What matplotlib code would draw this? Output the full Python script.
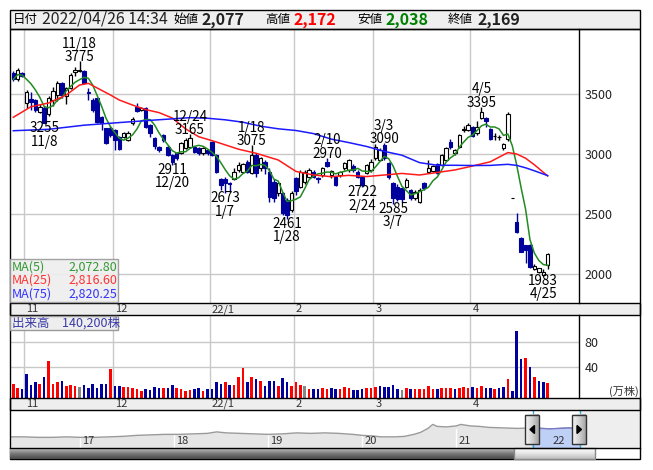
"""
Daily candlestick chart with moving averages, volume and navigator
"""

import matplotlib.pyplot as plt
import numpy as np
import pandas as pd
from matplotlib.patches import Rectangle, Polygon
from matplotlib.colors import LinearSegmentedColormap

plt.rcParams['font.family'] = ['Noto Sans CJK JP', 'DejaVu Sans']

# Trading days (Tokyo, 2021/10/27 - 2022/04/26)
holidays = ['2021-11-03', '2021-11-23', '2021-12-31', '2022-01-03', '2022-01-10',
            '2022-02-11', '2022-02-23', '2022-03-21']
dates = pd.bdate_range('2021-10-27', '2022-04-26', freq='C', holidays=holidays)

opens = [3672, 3622, 3672, 3428, 3456, 3450, 3353, 3381, 3330, 3450,
         3492, 3589, 3483, 3547, 3686, 3690, 3694, 3519, 3450, 3464,
         3311, 3214, 3214, 3200, 3144, 3144, 3117, 3255, 3394, 3367,
         3381, 3242, 3130, 3061, 3158, 3061, 2992, 3006, 3006, 3047,
         3061, 3061, 3047, 3006, 3033, 3103, 2992, 2789, 2789, 2755,
         2789, 2867, 2853, 2936, 2839, 2992, 2880, 2936, 2853, 2769,
         2672, 2672, 2617, 2533, 2797, 2728, 2769, 2811, 2853, 2800,
         2825, 2936, 2825, 2811, 2825, 2880, 2867, 2900, 2853, 2811,
         2839, 2867, 2964, 2950, 3075, 2922, 2756, 2728, 2714, 2728,
         2700, 2631, 2603, 2756, 2853, 2861, 2917, 2908, 2950, 3103,
         3006, 3061, 3203, 3200, 3222, 3172, 3297, 3297, 3205, 3150,
         3139, 3047, 3122, 2630, 2436, 2297, 2242, 2242, 2045, 2015,
         1995, 2077]
highs = [3690, 3720, 3680, 3533, 3520, 3460, 3420, 3400, 3485, 3561,
         3610, 3600, 3561, 3672, 3728, 3775, 3700, 3547, 3470, 3470,
         3320, 3220, 3230, 3210, 3150, 3180, 3190, 3311, 3422, 3394,
         3394, 3250, 3140, 3070, 3170, 3075, 3000, 3020, 3100, 3130,
         3165, 3070, 3060, 3055, 3040, 3110, 3000, 2800, 2810, 2770,
         2881, 2930, 2925, 2950, 3075, 3006, 2975, 2950, 2880, 2790,
         2770, 2680, 2630, 2690, 2810, 2870, 2870, 2880, 2870, 2810,
         2890, 2970, 2870, 2820, 2860, 2936, 2960, 2920, 2870, 2820,
         2920, 2960, 3080, 3050, 3090, 2930, 2770, 2750, 2720, 2800,
         2710, 2700, 2720, 2770, 2950, 2910, 2925, 3000, 3060, 3125,
         3045, 3170, 3230, 3260, 3230, 3275, 3395, 3311, 3215, 3175,
         3160, 3090, 3354, 2630, 2506, 2305, 2245, 2250, 2085, 2050,
         2045, 2172]
lows = [3610, 3610, 3640, 3381, 3370, 3350, 3340, 3255, 3320, 3400,
        3440, 3470, 3420, 3540, 3650, 3680, 3580, 3450, 3350, 3260,
        3200, 3080, 3140, 3030, 3030, 3130, 3110, 3240, 3350, 3355,
        3220, 3140, 3040, 3020, 3100, 2980, 2911, 2950, 3000, 3040,
        3050, 3010, 2995, 2995, 2995, 2980, 2840, 2700, 2673, 2680,
        2780, 2850, 2840, 2840, 2830, 2810, 2860, 2830, 2600, 2600,
        2650, 2490, 2461, 2520, 2660, 2720, 2750, 2800, 2800, 2760,
        2810, 2890, 2800, 2730, 2810, 2870, 2850, 2850, 2800, 2722,
        2830, 2850, 2950, 2940, 2950, 2790, 2585, 2610, 2600, 2720,
        2620, 2620, 2590, 2700, 2839, 2850, 2830, 2900, 2940, 3040,
        2990, 3050, 3180, 3190, 3140, 3160, 3290, 3225, 3115, 3115,
        3120, 3030, 3110, 2630, 2340, 2180, 2089, 2050, 2030, 2010,
        1983, 2038]
closes = [3622, 3700, 3650, 3519, 3436, 3367, 3394, 3260, 3470, 3528,
          3594, 3492, 3547, 3658, 3700, 3700, 3589, 3510, 3367, 3269,
          3255, 3089, 3158, 3117, 3039, 3172, 3178, 3289, 3361, 3381,
          3228, 3172, 3067, 3033, 3117, 2992, 2930, 2964, 3089, 3117,
          3130, 3019, 3006, 3047, 3006, 2992, 2850, 2742, 2755, 2750,
          2853, 2908, 2920, 2853, 2992, 2839, 2964, 2880, 2640, 2631,
          2756, 2505, 2492, 2672, 2690, 2853, 2853, 2867, 2811, 2790,
          2880, 2900, 2860, 2742, 2853, 2922, 2950, 2867, 2811, 2742,
          2908, 2936, 3061, 3033, 2964, 2811, 2631, 2625, 2625, 2783,
          2631, 2686, 2700, 2714, 2880, 2900, 2845, 2992, 3047, 3056,
          3033, 3158, 3206, 3242, 3150, 3222, 3353, 3278, 3122, 3153,
          3140, 3083, 3333, 2630, 2353, 2186, 2200, 2060, 2070, 2047,
          2018, 2169]
prev_close = 3600  # close before the first day shown
# volume, 10,000 shares
volumes = [13.3, 7.5, 5.4, 29.3, 11.7, 17.1, 13.3, 24.5, 49.1, 13.3,
           17.1, 18.1, 9.6, 11.7, 10.1, 8.5, 11.7, 7.5, 13.3, 7.5,
           13.3, 13.3, 37.3, 10.1, 10.1, 8.5, 8.5, 6.9, 5.4, 2.6,
           5.4, 3.7, 8.5, 6.9, 6.9, 7.5, 11.7, 6.9, 5.4, 2.6,
           3.7, 5.4, 6.9, 2.6, 5.4, 5.4, 15.9, 13.3, 15.9, 11.7,
           11.7, 24.5, 38.9, 15.9, 24.5, 21.3, 18.1, 9.6, 18.1, 18.1,
           9.6, 23.0, 15.9, 9.6, 16.5, 11.7, 9.6, 5.4, 5.4, 5.4,
           6.9, 5.4, 6.4, 5.4, 5.4, 9.0, 6.9, 3.7, 3.7, 5.4,
           6.9, 6.9, 9.0, 10.1, 8.5, 8.5, 11.7, 5.4, 3.7, 6.9,
           5.4, 5.4, 5.4, 5.4, 10.6, 5.4, 5.4, 6.9, 6.9, 6.9,
           5.4, 6.9, 9.0, 6.9, 8.5, 6.9, 10.1, 6.9, 6.9, 5.4,
           6.9, 8.5, 21.3, 2.1, 97.8, 53.0, 54.7, 40.5, 24.5, 18.1,
           16.5, 14.02]

# moving averages (day index, value)
ma25_idx = [0, 4, 8, 12, 15, 17, 19, 22, 24, 27, 30, 33, 36, 39, 42, 46,
            51, 55, 60, 64, 68, 72, 76, 80, 84, 88, 92, 96, 100, 104, 108,
            112, 114, 116, 118, 121]
ma25_val = [3306, 3394, 3425, 3492, 3575, 3589, 3550, 3492, 3450, 3408, 3370,
            3345, 3300, 3210, 3144, 3100, 3040, 3006, 2950, 2855, 2825, 2811,
            2822, 2812, 2825, 2838, 2825, 2846, 2867, 2900, 2935, 3012, 3000,
            2965, 2910, 2817]
ma75_idx = [0, 8, 16, 24, 32, 40, 44, 48, 52, 56, 60, 64, 68, 72, 76, 80,
            84, 88, 92, 96, 100, 104, 108, 112, 114, 116, 118, 121]
ma75_val = [3194, 3206, 3240, 3262, 3283, 3303, 3298, 3285, 3265, 3232, 3210,
            3196, 3170, 3124, 3095, 3063, 3022, 2990, 2928, 2906, 2906, 2904,
            2905, 2914, 2905, 2885, 2860, 2820]

# labelled highs / lows (day index, which)
marks = [(15, 'high'), (7, 'low'), (40, 'high'), (36, 'low'), (54, 'high'),
         (48, 'low'), (62, 'low'), (71, 'high'), (84, 'high'), (79, 'low'),
         (86, 'low'), (106, 'high'), (120, 'low')]

price_ticks = [2000, 2500, 3000, 3500]
vol_ticks = [40, 80]

# navigator: long-term history (decimal year, level)
nav_year = [2016.26, 2016.4, 2016.55, 2016.7, 2016.85, 2017.0, 2017.15, 2017.3,
            2017.45, 2017.6, 2017.75, 2017.9, 2018.05, 2018.2, 2018.35, 2018.45,
            2018.55, 2018.7, 2018.85, 2019.0, 2019.15, 2019.3, 2019.45, 2019.6,
            2019.75, 2019.9, 2020.0, 2020.1, 2020.2, 2020.35, 2020.45, 2020.55,
            2020.62, 2020.7, 2020.75, 2020.8, 2020.9, 2021.0, 2021.05, 2021.15,
            2021.25, 2021.35, 2021.5, 2021.65, 2021.8, 2021.9, 2022.0, 2022.1,
            2022.2, 2022.32]
nav_level = [11.5, 11.5, 11, 11, 11.5, 11, 11, 11.5, 12, 13, 13.5, 14, 14,
             14.5, 15, 16.5, 15.5, 15, 14.5, 14, 14.5, 15.5, 15, 15.5, 15, 14,
             13, 12.5, 11.5, 11.5, 12, 14, 16, 20, 24, 22, 21.5, 22.5, 24, 22.5,
             22, 21, 20.5, 20, 20.5, 20, 19.5, 20, 20.5, 19.5]
nav_sel = (2021.82, 2022.32)

# ---- figure, laid out in pixels ----
W, H = 653, 470
fig = plt.figure(figsize=(W / 100, H / 100), dpi=100)


def px_axes(x0, y0, x1, y1, **kw):
    return fig.add_axes([x0 / W, 1 - y1 / H, (x1 - x0) / W, (y1 - y0) / H], **kw)


def px_overlay(zorder):
    a = fig.add_axes([0, 0, 1, 1], zorder=zorder)
    a.set_xlim(0, W)
    a.set_ylim(H, 0)
    a.set_axis_off()
    a.patch.set_alpha(0)
    return a


# backgrounds below everything
bg = px_overlay(-1)
bg.add_patch(Rectangle((10, 10), 630, 19, facecolor='#efefef', lw=0))
for y0, y1 in [(303, 315), (397.5, 410.3)]:
    bg.add_patch(Rectangle((10, y0), 630, y1 - y0, facecolor='#eeeeee', lw=0))

idx = np.arange(len(dates))
o, h, l, c = map(np.array, (opens, highs, lows, closes))
up = c >= o
navy = '#00009c'
grid_c = '#c8c8c8'

# month boundaries
month_start = [i for i in range(1, len(dates)) if dates[i].month != dates[i - 1].month]
bounds = [i - 0.5 for i in month_start]
month_lab = [('%02d/%d' % (dates[i].year % 100, dates[i].month)) if dates[i].month == 1
             else str(dates[i].month) for i in month_start]

x_lo, x_hi = -0.63, 128.1


def month_labels(a):
    for b, lab in zip(bounds, month_lab):
        a.annotate(lab, (b, 0), xycoords=('data', 'axes fraction'), xytext=(2, -6.5),
                   textcoords='offset pixels', ha='left', va='center', fontsize=8,
                   color='#333333', annotation_clip=False)


# ---- price panel ----
ax = px_axes(10.5, 29, 579, 303)
ax.set_xlim(x_lo, x_hi)
ax.set_ylim(1758, 4042)
ax.set_xticks(bounds)
ax.set_yticks(price_ticks)
ax.yaxis.tick_right()
ax.tick_params(axis='x', length=0, labelbottom=False)
ax.tick_params(axis='y', length=0, pad=4, labelsize=9, labelcolor='#222222')
ax.grid(True, color=grid_c, lw=1)
ax.set_axisbelow(True)
for s in ax.spines.values():
    s.set_visible(False)

ax.vlines(idx, l, h, colors=np.where(up, 'black', navy), lw=1, zorder=2)
body_lo = np.minimum(o, c)
body_h = np.abs(c - o)
ax.bar(idx, body_h, bottom=body_lo, width=0.78,
       color=np.where(up, 'white', navy), edgecolor=np.where(up, 'black', navy),
       lw=0.8, zorder=3)

ma5 = pd.Series(closes).rolling(5, min_periods=1).mean()
ax.plot(idx, ma5, color='#228b22', lw=1.1, zorder=4)
ax.plot(ma25_idx, ma25_val, color='#ff1a1a', lw=1.1, zorder=4)
ax.plot(ma75_idx, ma75_val, color='#1a1aff', lw=1.1, zorder=4)

for i, kind in marks:
    d = dates[i]
    md = '%d/%d' % (d.month, d.day)
    if kind == 'high':
        ax.annotate('%s\n%d' % (md, h[i]), (i, h[i]), xytext=(0, -3),
                    textcoords='offset pixels', ha='center', va='bottom',
                    fontsize=9.7, linespacing=0.95, zorder=5)
    else:
        ax.annotate('%d\n%s' % (l[i], md), (i, l[i]), xytext=(0, 2),
                    textcoords='offset pixels', ha='center', va='top',
                    fontsize=9.7, linespacing=0.95, zorder=5)
month_labels(ax)

# ---- volume panel ----
av = px_axes(10.5, 315, 579, 397.5)
av.set_xlim(x_lo, x_hi)
v_lo = -8.3
av.set_ylim(v_lo, 122.9)
av.set_xticks(bounds)
av.set_yticks(vol_ticks)
av.yaxis.tick_right()
av.tick_params(axis='x', length=0, labelbottom=False)
av.tick_params(axis='y', length=0, pad=4, labelsize=9, labelcolor='#222222')
av.grid(True, color=grid_c, lw=1)
av.set_axisbelow(True)
for s in av.spines.values():
    s.set_visible(False)
chg = np.sign(np.diff(c, prepend=prev_close))
vcol = np.where(chg > 0, '#ff0000', np.where(chg < 0, navy, '#888888'))
av.bar(idx, np.array(volumes) - v_lo, bottom=v_lo, width=0.58, color=vcol, zorder=3)
av.annotate('(万株)', (1, 0), xycoords='axes fraction', xytext=(30, 6),
            textcoords='offset pixels', ha='left', va='center', fontsize=8,
            color='#333333', annotation_clip=False)
month_labels(av)

# ---- navigator ----
an = px_axes(10.5, 410.5, 640, 448.3)
an.set_xlim(2016.255, 2022.957)
an.set_ylim(0, 38)
an.set_axis_off()
ny = np.array(nav_year)
nl = np.array(nav_level)
an.fill_between(ny, 0, nl, color='#e6e6e6', lw=0)
an.plot(ny, nl, color='#9a9a9a', lw=1)
sel = ny >= nav_sel[0] - 0.05
an.fill_between(ny[sel], 0, nl[sel], color='#bfd0f7', lw=0, zorder=2)
an.plot(ny[sel], nl[sel], color='#7a7ac8', lw=1, zorder=3)
an.axvspan(nav_year[-1], 2022.957, color='#eeeeee', lw=0)
for yr in range(2017, 2023):
    an.axvline(yr, ymax=0.5, color='white', lw=1, zorder=1.5)
    an.annotate(str(yr % 100), (yr, 0), xytext=(2, 7), textcoords='offset pixels',
                ha='left', va='center', fontsize=8, color='#333333')
for xs in nav_sel:
    an.axvline(xs, color='#33a8e0', lw=1, zorder=4)

# ---- overlay: frames, header, legend boxes, scrollbar ----
ov = px_overlay(10)
ov.add_patch(Rectangle((10, 10), 630, 19, facecolor='none', edgecolor='black', lw=1))
for y0, y1 in [(303, 315), (397.5, 410.3)]:
    ov.add_patch(Rectangle((10, y0), 630, y1 - y0, facecolor='none', edgecolor='black', lw=1))
ov.add_patch(Rectangle((10, 29), 630, 430, facecolor='none', edgecolor='black', lw=1))
ov.plot([579, 579], [29, 303], color='black', lw=1)
ov.plot([579, 579], [315, 397.5], color='black', lw=1)
ov.plot([10, 640], [448.3, 448.3], color='black', lw=1)

# header
hdr = [(13, '日付', 9, 'normal', 'black'),
       (42, '2022/04/26 14:34', 11.4, 'normal', '#222222'),
       (173, '始値', 9, 'normal', 'black'),
       (201, '2,077', 11.5, 'bold', '#222222'),
       (265, '高値', 9, 'normal', 'black'),
       (293, '2,172', 11.5, 'bold', '#ff0000'),
       (357, '安値', 9, 'normal', 'black'),
       (385, '2,038', 11.5, 'bold', '#008000'),
       (448, '終値', 9, 'normal', 'black'),
       (477, '2,169', 11.5, 'bold', '#222222')]
for x, s, fs, fw, col in hdr:
    ov.text(x, 19.5, s, fontsize=fs, fontweight=fw, color=col, ha='left', va='center')

# MA legend
ov.add_patch(Rectangle((10, 259), 108, 43, facecolor='#eeeeee', edgecolor='#999999', lw=1, alpha=0.9))
leg = [('MA(5)', '2,072.80', '#339933'), ('MA(25)', '2,816.60', '#ff3333'),
       ('MA(75)', '2,820.25', '#3333ff')]
for k, (name, val, col) in enumerate(leg):
    y = 266.7 + 13.8 * k
    ov.text(12, y, name, fontsize=9, color=col, ha='left', va='center')
    ov.text(117, y, val, fontsize=9, color=col, ha='right', va='center')

# volume label
ov.add_patch(Rectangle((10, 316), 108, 14, facecolor='#eeeeee', edgecolor='#999999', lw=1))
ov.text(12, 323, '出来高　140,200株', fontsize=9, color='#3a3aa8', ha='left', va='center')

# scrollbar
grad = np.linspace(0, 1, 32).reshape(-1, 1)
track = LinearSegmentedColormap.from_list('track', ['#c4c4c4', '#7a7a7a', '#4a4a4a'])
thumb = LinearSegmentedColormap.from_list('thumb', ['#ffffff', '#e4e4e4', '#bdbdbd'])
knob = LinearSegmentedColormap.from_list('knob', ['#f6f6f6', '#d4d4d4', '#a6a6a6'])
ov.imshow(grad, extent=(10, 514, 459, 448.3), cmap=track, aspect='auto', zorder=1)
ov.imshow(grad, extent=(514, 595, 459, 448.3), cmap=thumb, aspect='auto', zorder=1)
ov.add_patch(Rectangle((514, 448.3), 81, 10.7, facecolor='none', edgecolor='#888888', lw=1))

# handles
hgrad = np.linspace(0, 1, 16).reshape(1, -1)
for hx, tri in [(525, [(534.5, 425.5), (534.5, 433.5), (530, 429.5)]),
                (572, [(577, 425.5), (577, 433.5), (581.5, 429.5)])]:
    ov.imshow(hgrad, extent=(hx, hx + 13.7, 444.3, 415), cmap=knob, aspect='auto', zorder=2)
    ov.add_patch(Rectangle((hx, 415), 13.7, 29.3, facecolor='none', edgecolor='#333333',
                           lw=1, zorder=3))
    ov.add_patch(Polygon(tri, closed=True, color='black', zorder=4))
ov.set_xlim(0, W)
ov.set_ylim(H, 0)

fig.savefig('out.png', dpi=100)
